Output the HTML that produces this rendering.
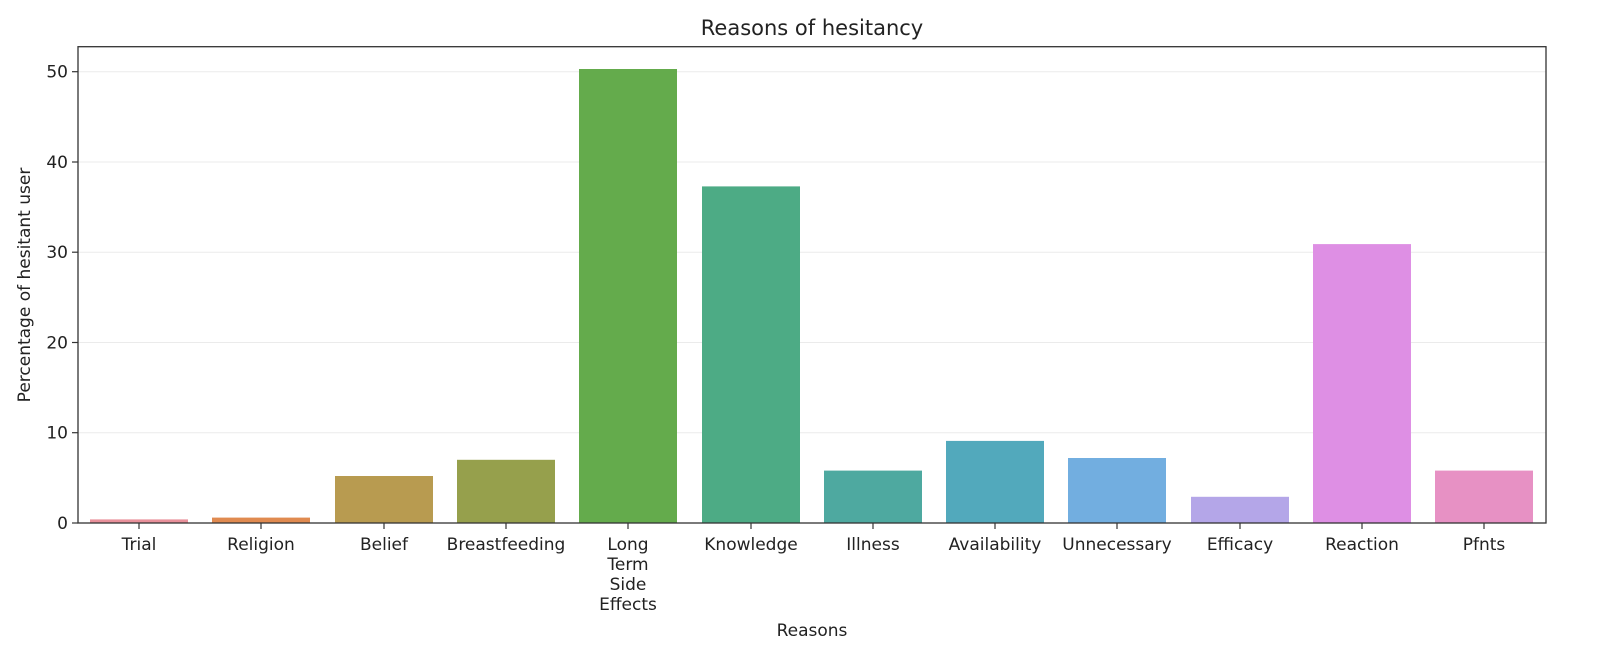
<!DOCTYPE html>
<html><head><meta charset="utf-8"><style>body{margin:0;background:#fff}svg{display:block;font-family:"DejaVu Sans","Liberation Sans",sans-serif}</style></head>
<body>
<svg width="1600" height="651" xmlns="http://www.w3.org/2000/svg">
<g stroke="#ebebeb" stroke-width="1">
<line x1="78" x2="1546" y1="432.7" y2="432.7"/><line x1="78" x2="1546" y1="342.5" y2="342.5"/>
<line x1="78" x2="1546" y1="252.2" y2="252.2"/><line x1="78" x2="1546" y1="162" y2="162"/><line x1="78" x2="1546" y1="71.7" y2="71.7"/>
</g>
<g>
<rect x="90" y="519.4" width="98" height="3.6" fill="#e8909a"/>
<rect x="212" y="517.6" width="98" height="5.4" fill="#e08a50"/>
<rect x="335" y="476" width="98" height="47" fill="#b89b50"/>
<rect x="457" y="459.8" width="98" height="63.2" fill="#96a04c"/>
<rect x="579" y="69" width="98" height="454" fill="#64ab4c"/>
<rect x="702" y="186.4" width="98" height="336.6" fill="#4dab85"/>
<rect x="824" y="470.6" width="98" height="52.4" fill="#4ea9a0"/>
<rect x="946" y="440.9" width="98" height="82.1" fill="#52a9bc"/>
<rect x="1068" y="458" width="98" height="65" fill="#72aee0"/>
<rect x="1191" y="496.8" width="98" height="26.2" fill="#b4a6e8"/>
<rect x="1313" y="244.1" width="98" height="278.9" fill="#de8fe4"/>
<rect x="1435" y="470.6" width="98" height="52.4" fill="#e791c4"/>
</g>
<rect x="78" y="46.7" width="1468" height="476.3" fill="none" stroke="#333" stroke-width="1.3"/>
<g stroke="#333" stroke-width="1.2">
<line x1="72" x2="78" y1="523" y2="523"/><line x1="72" x2="78" y1="432.7" y2="432.7"/><line x1="72" x2="78" y1="342.5" y2="342.5"/>
<line x1="72" x2="78" y1="252.2" y2="252.2"/><line x1="72" x2="78" y1="162" y2="162"/><line x1="72" x2="78" y1="71.7" y2="71.7"/>
<line x1="139" x2="139" y1="523" y2="529"/><line x1="261" x2="261" y1="523" y2="529"/><line x1="384" x2="384" y1="523" y2="529"/>
<line x1="506" x2="506" y1="523" y2="529"/><line x1="628" x2="628" y1="523" y2="529"/><line x1="751" x2="751" y1="523" y2="529"/>
<line x1="873" x2="873" y1="523" y2="529"/><line x1="995" x2="995" y1="523" y2="529"/><line x1="1117" x2="1117" y1="523" y2="529"/>
<line x1="1240" x2="1240" y1="523" y2="529"/><line x1="1362" x2="1362" y1="523" y2="529"/><line x1="1484" x2="1484" y1="523" y2="529"/>
</g>
<g font-size="17" fill="#222" text-anchor="end">
<text x="68" y="529">0</text><text x="68" y="438.7">10</text><text x="68" y="348.5">20</text>
<text x="68" y="258.2">30</text><text x="68" y="168">40</text><text x="68" y="77.7">50</text>
</g>
<g font-size="17" fill="#222" text-anchor="middle">
<text x="139" y="550">Trial</text><text x="261" y="550">Religion</text><text x="384" y="550">Belief</text>
<text x="506" y="550">Breastfeeding</text>
<text x="628" y="550">Long</text><text x="628" y="570">Term</text><text x="628" y="590">Side</text><text x="628" y="610">Effects</text>
<text x="751" y="550">Knowledge</text><text x="873" y="550">Illness</text><text x="995" y="550">Availability</text>
<text x="1117" y="550">Unnecessary</text><text x="1240" y="550">Efficacy</text><text x="1362" y="550">Reaction</text><text x="1484" y="550">Pfnts</text>
<text x="812" y="636">Reasons</text>
<text x="812" y="35" font-size="21">Reasons of hesitancy</text>
<text transform="translate(30,285) rotate(-90)">Percentage of hesitant user</text>
</g>
</svg>
</body></html>
